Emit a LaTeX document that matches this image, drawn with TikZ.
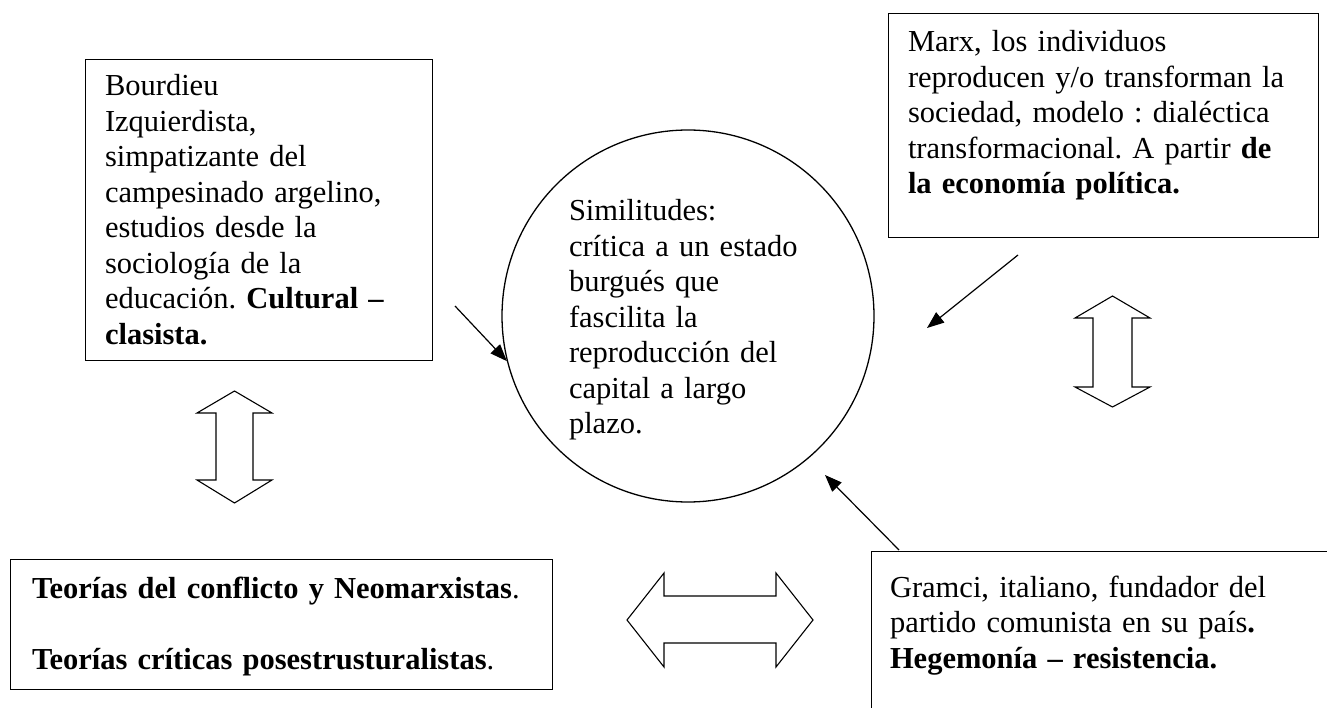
\documentclass[tikz,border=0pt]{standalone}
\usepackage{fontspec}
\setmainfont{Liberation Serif}
\usetikzlibrary{arrows.meta}
\frenchspacing
\begin{document}
\begin{tikzpicture}[x=1pt,y=-1pt,
  box/.style={draw=black,line width=1.3pt,rectangle,inner sep=0pt,anchor=north west},
  txt/.style={anchor=base west,inner sep=0pt,outer sep=0pt,text width=#1,align=left,
    font=\fontsize{30.5}{35.5}\selectfont\frenchspacing},
  conn/.style={draw=black,line width=1.2pt,-{Triangle[length=17pt,width=13pt]}},
  blockarrow/.style={draw=black,line width=1.1pt,fill=white,line join=miter}]
\useasboundingbox (0,0) rectangle (1327,708);
\fill[white] (0,0) rectangle (1327,708);
\clip (0,0) rectangle (1327,708);

% boxes
\node[box,minimum width=347pt,minimum height=301pt] (bourdieu) at (85,59) {};
\node[box,minimum width=430pt,minimum height=224pt] (marx) at (888,13) {};
\node[box,minimum width=542pt,minimum height=130pt] (teorias) at (10,559) {};
\node[box,minimum width=480pt,minimum height=200pt] (gramci) at (871,551) {};
\node[draw=black,line width=1.3pt,circle,minimum size=372pt,inner sep=0pt] (circ) at (688,316) {};

% texts
\node[txt=330pt] (tbourdieu) at (105,96) {Bourdieu\\
Izquierdista,\\
simpatizante del\\
campesinado argelino,\\
estudios desde la\\
sociología de la\\
educación. \textbf{Cultural –}\\
\textbf{clasista.}};
\node[txt=410pt] (tmarx) at (908,52) {Marx, los individuos\\
reproducen y/o transforman la\\
sociedad, modelo : dialéctica\\
transformacional. A partir \textbf{de}\\
\textbf{la economía política.}};
\node[txt=300pt] (tcirc) at (569,221) {Similitudes:\\
crítica a un estado\\
burgués que\\
fascilita la\\
reproducción del\\
capital a largo\\
plazo.};
\node[txt=520pt] (tteorias) at (32,598) {\textbf{Teorías del conflicto y Neomarxistas}.\\[35.5pt]
\textbf{Teorías críticas posestrusturalistas}.};
\node[txt=440pt] (tgramci) at (890,597) {Gramci, italiano, fundador del\\
partido comunista en su país\textbf{.}\\
\textbf{Hegemonía – resistencia.}};

% connectors
\coordinate (bstart) at (455,306);
\coordinate (mstart) at (1018,255);
\coordinate (mend) at (927,328);
\coordinate (gstart) at (899,550);
\coordinate (gend) at (825,475);
\draw[conn] (bstart) -- (circ.194);
\draw[conn] (mstart) -- (mend);
\draw[conn] (gstart) -- (gend);

% hollow double arrows
\draw[blockarrow] (234.5,391) -- (272,413) -- (253,413) -- (253,480) -- (272,480) -- (234.5,503)
  -- (197,480) -- (216,480) -- (216,413) -- (197,413) -- cycle;
\draw[blockarrow] (1112.5,296) -- (1150,318) -- (1132,318) -- (1132,387) -- (1150,387) -- (1112.5,407)
  -- (1075,387) -- (1093,387) -- (1093,318) -- (1075,318) -- cycle;
\draw[blockarrow] (627,620) -- (664,573) -- (664,596) -- (776,596) -- (776,573) -- (813,620)
  -- (776,667) -- (776,643) -- (664,643) -- (664,667) -- cycle;
\end{tikzpicture}
\end{document}
